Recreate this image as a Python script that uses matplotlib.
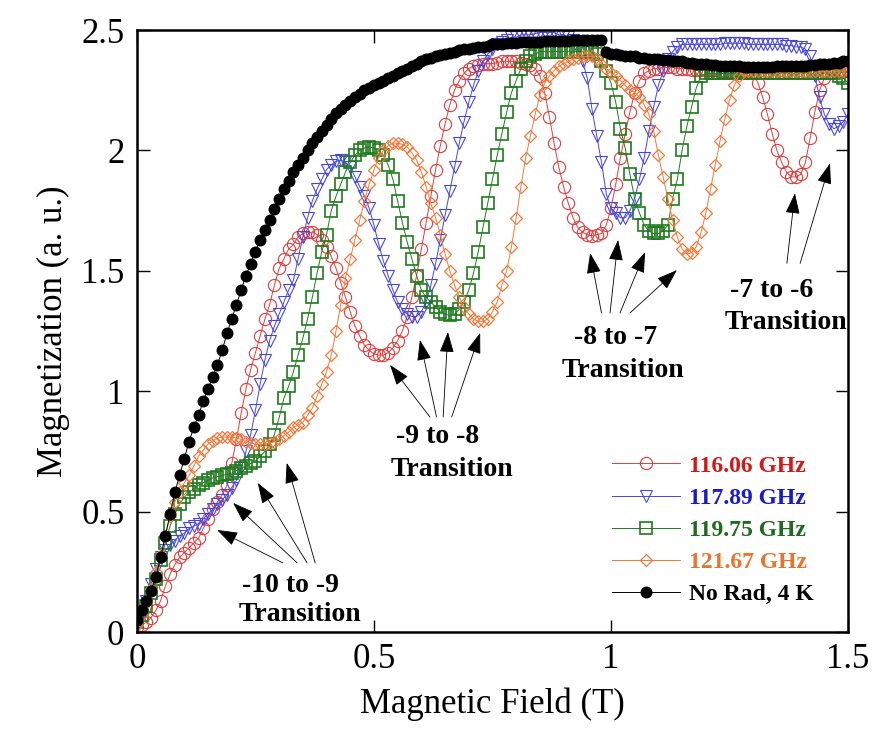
import numpy as np
import matplotlib
matplotlib.use("Agg")
import matplotlib.pyplot as plt
from matplotlib.ticker import FuncFormatter

# field sweep, 0 to 1.5 T in 0.01 T steps
field = np.round(np.linspace(0.0, 1.5, 151), 2)

m_116 = [
    0.02, 0.03, 0.04, 0.06, 0.09, 0.13, 0.19, 0.24, 0.28, 0.31,
    0.33, 0.35, 0.37, 0.39, 0.43, 0.47, 0.51, 0.54, 0.57, 0.61,
    0.70, 0.80, 0.91, 1.01, 1.09, 1.16, 1.23, 1.30, 1.36, 1.44,
    1.51, 1.55, 1.59, 1.61, 1.64, 1.655, 1.66, 1.66, 1.65, 1.63,
    1.60, 1.56, 1.51, 1.45, 1.39, 1.33, 1.27, 1.23, 1.19, 1.17,
    1.155, 1.15, 1.15, 1.16, 1.18, 1.21, 1.25, 1.31, 1.39, 1.48,
    1.59, 1.70, 1.81, 1.92, 2.02, 2.11, 2.19, 2.25, 2.29, 2.32,
    2.34, 2.35, 2.355, 2.36, 2.36, 2.36, 2.365, 2.37, 2.37, 2.37,
    2.37, 2.365, 2.36, 2.355, 2.34, 2.31, 2.24, 2.14, 2.03, 1.93,
    1.85, 1.78, 1.72, 1.68, 1.66, 1.65, 1.645, 1.65, 1.655, 1.69,
    1.76, 1.86, 1.97, 2.07, 2.16, 2.24, 2.29, 2.32, 2.33, 2.34,
    2.34, 2.345, 2.345, 2.345, 2.34, 2.34, 2.34, 2.335, 2.335, 2.335,
    2.335, 2.335, 2.335, 2.33, 2.33, 2.33, 2.33, 2.33, 2.33, 2.33,
    2.32, 2.28, 2.22, 2.15, 2.07, 2.00, 1.95, 1.91, 1.89, 1.89,
    1.90, 1.95, 2.05, 2.16, 2.25, 2.30, 2.32, 2.33, 2.33, 2.33,
    2.33,
]

m_117 = [
    0.03, 0.07, 0.13, 0.20, 0.26, 0.31, 0.34, 0.36, 0.38, 0.40,
    0.41, 0.43, 0.44, 0.45, 0.47, 0.49, 0.51, 0.53, 0.55, 0.57,
    0.60, 0.63, 0.68, 0.75, 0.82, 0.92, 1.03, 1.13, 1.21, 1.27,
    1.32, 1.37, 1.42, 1.46, 1.55, 1.64, 1.72, 1.79, 1.84, 1.88,
    1.92, 1.94, 1.955, 1.96, 1.95, 1.93, 1.89, 1.85, 1.81, 1.76,
    1.69, 1.61, 1.54, 1.48, 1.42, 1.37, 1.34, 1.32, 1.31, 1.31,
    1.33, 1.37, 1.44, 1.53, 1.63, 1.73, 1.83, 1.93, 2.03, 2.12,
    2.20, 2.27, 2.33, 2.37, 2.40, 2.42, 2.44, 2.45, 2.46, 2.47,
    2.47, 2.48, 2.48, 2.48, 2.485, 2.49, 2.49, 2.49, 2.49, 2.48,
    2.48, 2.47, 2.46, 2.42, 2.37, 2.30, 2.17, 2.06, 1.95, 1.82,
    1.76, 1.74, 1.72, 1.72, 1.75, 1.80, 1.88, 1.97, 2.08, 2.18,
    2.27, 2.33, 2.38, 2.41, 2.43, 2.44, 2.44, 2.44, 2.44, 2.44,
    2.44, 2.44, 2.44, 2.44, 2.445, 2.445, 2.445, 2.445, 2.445, 2.44,
    2.44, 2.44, 2.44, 2.44, 2.44, 2.44, 2.44, 2.435, 2.435, 2.43,
    2.43, 2.42, 2.39, 2.31, 2.22, 2.15, 2.11, 2.09, 2.10, 2.12,
    2.15,
]

m_119 = [
    0.04, 0.07, 0.11, 0.16, 0.22, 0.30, 0.37, 0.44, 0.49, 0.53,
    0.56, 0.58, 0.595, 0.61, 0.62, 0.63, 0.64, 0.645, 0.65, 0.655,
    0.66, 0.67, 0.68, 0.69, 0.70, 0.71, 0.73, 0.75, 0.78, 0.82,
    0.89, 0.97, 1.02, 1.08, 1.15, 1.22, 1.30, 1.39, 1.49, 1.58,
    1.65, 1.75, 1.81, 1.86, 1.91, 1.95, 1.98, 2.00, 2.01, 2.015,
    2.01, 2.00, 1.98, 1.94, 1.88, 1.79, 1.70, 1.62, 1.55, 1.48,
    1.42, 1.39, 1.37, 1.35, 1.33, 1.32, 1.315, 1.32, 1.34, 1.37,
    1.42, 1.49, 1.58, 1.68, 1.78, 1.88, 1.98, 2.07, 2.16, 2.24,
    2.29, 2.34, 2.37, 2.39, 2.40, 2.41, 2.41, 2.41, 2.41, 2.41,
    2.41, 2.41, 2.41, 2.41, 2.41, 2.41, 2.41, 2.40, 2.37, 2.33,
    2.28, 2.20, 2.09, 2.01, 1.90, 1.80, 1.74, 1.69, 1.665, 1.655,
    1.655, 1.665, 1.69, 1.80, 1.88, 2.00, 2.10, 2.18, 2.26, 2.31,
    2.32, 2.32, 2.32, 2.32, 2.32, 2.32, 2.32, 2.32, 2.32, 2.32,
    2.32, 2.32, 2.32, 2.32, 2.32, 2.32, 2.32, 2.32, 2.32, 2.32,
    2.32, 2.32, 2.32, 2.32, 2.32, 2.32, 2.32, 2.32, 2.31, 2.30,
    2.28,
]

m_121 = [
    0.03, 0.07, 0.12, 0.18, 0.25, 0.32, 0.40, 0.48, 0.54, 0.58,
    0.62, 0.65, 0.69, 0.73, 0.755, 0.78, 0.795, 0.805, 0.81, 0.81,
    0.81, 0.805, 0.80, 0.79, 0.785, 0.78, 0.78, 0.78, 0.785, 0.79,
    0.80, 0.815, 0.83, 0.85, 0.86, 0.87, 0.90, 0.93, 0.98, 1.03,
    1.08, 1.15, 1.25, 1.36, 1.47, 1.55, 1.63, 1.71, 1.79, 1.86,
    1.92, 1.97, 2.00, 2.02, 2.03, 2.03, 2.025, 2.015, 1.99, 1.96,
    1.91, 1.85, 1.78, 1.72, 1.65, 1.57, 1.50, 1.44, 1.39, 1.35,
    1.32, 1.30, 1.29, 1.29, 1.30, 1.33, 1.37, 1.44, 1.50, 1.60,
    1.72, 1.85, 1.97, 2.06, 2.15, 2.23, 2.28, 2.31, 2.33, 2.35,
    2.36, 2.37, 2.38, 2.385, 2.39, 2.39, 2.39, 2.38, 2.36, 2.34,
    2.32, 2.31, 2.29, 2.27, 2.25, 2.24, 2.22, 2.19, 2.15, 2.08,
    1.98, 1.89, 1.80, 1.71, 1.64, 1.59, 1.57, 1.575, 1.60, 1.66,
    1.74, 1.84, 1.94, 2.04, 2.13, 2.21, 2.27, 2.31, 2.33, 2.33,
    2.33, 2.33, 2.33, 2.33, 2.33, 2.33, 2.33, 2.33, 2.33, 2.33,
    2.33, 2.33, 2.33, 2.33, 2.33, 2.33, 2.33, 2.33, 2.33, 2.33,
    2.33,
]

m_norad = [
    0.05, 0.09, 0.13, 0.17, 0.23, 0.31, 0.40, 0.49, 0.58, 0.65,
    0.72, 0.79, 0.85, 0.90, 0.96, 1.01, 1.06, 1.11, 1.17, 1.24,
    1.30, 1.36, 1.42, 1.48, 1.53, 1.58, 1.63, 1.67, 1.71, 1.755,
    1.80, 1.84, 1.875, 1.91, 1.94, 1.97, 2.00, 2.03, 2.055, 2.08,
    2.105, 2.13, 2.155, 2.17, 2.19, 2.205, 2.22, 2.235, 2.25, 2.26,
    2.27, 2.28, 2.29, 2.30, 2.31, 2.32, 2.33, 2.34, 2.35, 2.36,
    2.37, 2.38, 2.385, 2.39, 2.395, 2.40, 2.405, 2.41, 2.415, 2.42,
    2.42, 2.425, 2.43, 2.43, 2.435, 2.44, 2.44, 2.44, 2.445, 2.445,
    2.445, 2.45, 2.45, 2.45, 2.45, 2.45, 2.455, 2.455, 2.455, 2.455,
    2.455, 2.455, 2.46, 2.46, 2.46, 2.46, 2.46, 2.46, 2.46, 2.41,
    2.40, 2.40, 2.395, 2.39, 2.39, 2.39, 2.385, 2.385, 2.38, 2.38,
    2.38, 2.375, 2.375, 2.37, 2.37, 2.37, 2.365, 2.365, 2.36, 2.36,
    2.36, 2.355, 2.355, 2.35, 2.35, 2.35, 2.35, 2.35, 2.345, 2.345,
    2.345, 2.345, 2.345, 2.345, 2.345, 2.35, 2.35, 2.35, 2.35, 2.35,
    2.35, 2.35, 2.355, 2.355, 2.36, 2.36, 2.36, 2.365, 2.365, 2.37,
    2.37,
]

labels = ["116.06 GHz", "117.89 GHz", "119.75 GHz", "121.67 GHz", "No Rad, 4 K"]
line_colors = ["#e23c3c", "#4646dc", "#1e7a1e", "#ee7a3c", "black"]
text_colors = ["#d41818", "#1a1ac8", "#1f6a1f", "#e8742e", "black"]

# annotation text: (label, x, y) for each line
notes = [
    ("-10 to -9", 0.325, 0.195), ("Transition", 0.344, 0.071),
    ("-9 to -8", 0.634, 0.81), ("Transition", 0.664, 0.673),
    ("-8 to -7", 1.010, 1.221), ("Transition", 1.026, 1.088),
    ("-7 to -6", 1.338, 1.42), ("Transition", 1.369, 1.287),
]
# arrows: (tail x, tail y, head x, head y)
arrows = [
    (0.308, 0.287, 0.169, 0.424), (0.338, 0.287, 0.203, 0.536),
    (0.359, 0.287, 0.255, 0.619), (0.376, 0.287, 0.316, 0.702),
    (0.618, 0.893, 0.534, 1.109), (0.632, 0.893, 0.597, 1.213),
    (0.646, 0.893, 0.656, 1.246), (0.664, 0.893, 0.724, 1.242),
    (0.980, 1.325, 0.956, 1.574), (0.998, 1.325, 1.015, 1.628),
    (1.019, 1.325, 1.072, 1.578), (1.040, 1.325, 1.139, 1.503),
    (1.371, 1.531, 1.388, 1.822), (1.399, 1.531, 1.462, 1.946),
]

plt.rcParams["font.family"] = ["Liberation Serif", "DejaVu Serif"]

fig = plt.figure(figsize=(8.72, 7.32), dpi=100)
ax = fig.add_axes([0.157, 0.1366, 0.8155, 0.8224])

series = [m_116, m_117, m_119, m_121]
marks = [("o", 8.8, 0.8), ("v", 8.8, 0.8), ("s", 8.0, 1.2), ("D", 5.8, 0.9)]
for vals, lab, col, (mk, ms, mew) in zip(series, labels, line_colors, marks):
    ax.plot(field, vals, color=col, lw=0.7, marker=mk, ms=ms,
            mfc="none", mec=col, mew=mew, label=lab)
ax.plot(field, m_norad, color="black", lw=0.7, marker="o", ms=7.6,
        mfc="black", mec="black", label=labels[4])

for txt, x, y in notes:
    ax.text(x, y, txt, fontsize=20, fontweight="bold", ha="center", va="center")
for x0, y0, x1, y1 in arrows:
    ax.annotate("", xy=(x1, y1), xytext=(x0, y0),
                arrowprops=dict(arrowstyle="-|>,head_length=1.3,head_width=0.45",
                                color="black", lw=0.6, shrinkA=0, shrinkB=0))

ax.set_xlim(0, 1.5)
ax.set_ylim(0, 2.5)
ax.set_xticks([0, 0.5, 1, 1.5])
ax.set_yticks([0, 0.5, 1, 1.5, 2, 2.5])
fmt = FuncFormatter(lambda v, p: "%g" % v)
ax.xaxis.set_major_formatter(fmt)
ax.yaxis.set_major_formatter(fmt)
ax.tick_params(direction="in", length=9, width=1, top=True, right=True,
               labelsize=25)
ax.tick_params(axis="x", pad=8)
ax.tick_params(axis="y", pad=9)
for sp in ax.spines.values():
    sp.set_linewidth(1.8)

ax.set_xlabel("Magnetic Field (T)", fontsize=25, labelpad=8)
ax.set_ylabel("Magnetization (a. u.)", fontsize=25, labelpad=8)

leg = ax.legend(loc="center left", bbox_to_anchor=(0.668, 0.169), frameon=False,
                handlelength=2.9, handletextpad=0.35,
                labelspacing=0.45, borderpad=0, borderaxespad=0, numpoints=1,
                prop={"weight": "bold", "size": 17})
for t, c in zip(leg.get_texts(), text_colors):
    t.set_color(c)

fig.savefig("out.png", dpi=100)
